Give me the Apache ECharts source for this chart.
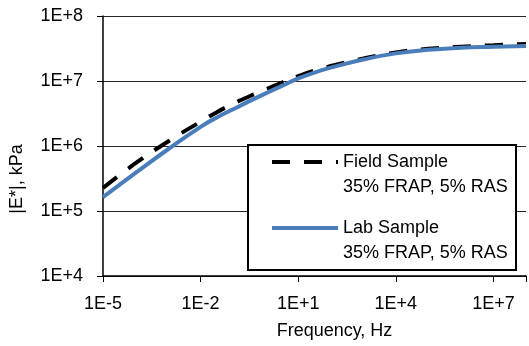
<!DOCTYPE html>
<html>
<head>
<meta charset="utf-8">
<script src="https://cdn.jsdelivr.net/npm/echarts@6/dist/echarts.min.js"></script>
<style>
html, body { margin: 0; padding: 0; background: #fff; }
#main { width: 529px; height: 346px; }
</style>
</head>
<body>
<div id="main"></div>
<script>
// values are log10: frequency in Hz, |E*| in kPa
var logFreq  = [-5, -4, -3, -2, -1.5, -1, -0.5, 0, 0.5, 1, 1.5, 2, 3, 4, 5, 6, 7, 8];
var logField = [5.354, 5.735, 6.07, 6.375, 6.52, 6.65, 6.765, 6.87, 6.975, 7.075, 7.16, 7.23, 7.345, 7.44, 7.495, 7.528, 7.55, 7.57];
var logLab   = [5.215, 5.585, 5.95, 6.295, 6.44, 6.565, 6.69, 6.81, 6.925, 7.04, 7.13, 7.205, 7.33, 7.425, 7.48, 7.51, 7.527, 7.54];
var xTicks = ['1E-5', '1E-2', '1E+1', '1E+4', '1E+7'];
var yTicks = ['1E+4', '1E+5', '1E+6', '1E+7', '1E+8'];
var legendNote = '35% FRAP, 5% RAS';

// x axis starts at 1E-5, shift so that min is 0 and ticks fall every 3 decades
var X_SHIFT = 5;
var FONT = 'Liberation Sans';

function pairs(ys) {
	return logFreq.map(function (f, i) { return [f + X_SHIFT, ys[i]]; });
}

var chart = echarts.init(document.getElementById('main'));
chart.setOption({
	backgroundColor: '#fff',
	animation: false,
	grid: { left: 103, top: 16, right: -3, bottom: 70 },
	xAxis: {
		type: 'value',
		min: 0,
		max: 13,
		interval: 3,
		name: 'Frequency, Hz',
		nameLocation: 'middle',
		nameGap: 46,
		nameTextStyle: { color: '#000', fontSize: 18, fontFamily: FONT, padding: [0, 0, 0, 40] },
		axisLine: { lineStyle: { color: '#000', width: 1.5 } },
		axisTick: { inside: false, length: 6, lineStyle: { color: '#000', width: 1 } },
		axisLabel: {
			color: '#000', fontSize: 18, fontFamily: FONT, margin: 19,
			formatter: function (v) { return v % 3 === 0 ? xTicks[v / 3] : ''; }
		},
		splitLine: { show: false }
	},
	yAxis: {
		type: 'value',
		min: 4,
		max: 8,
		interval: 1,
		name: '|E*|, kPa',
		nameLocation: 'middle',
		nameGap: 77,
		nameTextStyle: { color: '#000', fontSize: 18, fontFamily: FONT, padding: [0, 66, 0, 0] },
		axisLine: { show: true, lineStyle: { color: '#000', width: 1.5 } },
		axisTick: { show: true, inside: false, length: 6, lineStyle: { color: '#000', width: 1 } },
		axisLabel: {
			color: '#000', fontSize: 18, fontFamily: FONT, margin: 20,
			formatter: function (v) { return yTicks[v - 4]; }
		},
		splitLine: { show: true, lineStyle: { color: '#262626', width: 1 } }
	},
	legend: {
		orient: 'vertical',
		left: 270,
		top: 124.5,
		padding: 0,
		itemGap: -9,
		itemWidth: 66,
		itemHeight: 4,
		z: 5,
		formatter: function (name) { return '\n' + name + '\n' + legendNote; },
		textStyle: { color: '#000', fontSize: 18, fontFamily: FONT, lineHeight: 25 },
		lineStyle: { width: 4 },
		itemStyle: { opacity: 0, borderWidth: 0 },
		data: ['Field Sample', 'Lab Sample']
	},
	graphic: [{
		type: 'rect',
		z: 4,
		shape: { x: 248, y: 145, width: 268, height: 125 },
		style: { fill: '#fff', stroke: '#000', lineWidth: 2 }
	}],
	series: [{
		name: 'Field Sample',
		type: 'line',
		data: pairs(logField),
		smooth: true,
		symbol: 'none',
		lineStyle: { color: '#000', width: 4, type: [18, 14] },
		itemStyle: { color: '#000' }
	}, {
		name: 'Lab Sample',
		type: 'line',
		data: pairs(logLab),
		smooth: true,
		symbol: 'none',
		lineStyle: { color: '#4A7EBB', width: 4 },
		itemStyle: { color: '#4A7EBB' }
	}]
});
</script>
</body>
</html>
